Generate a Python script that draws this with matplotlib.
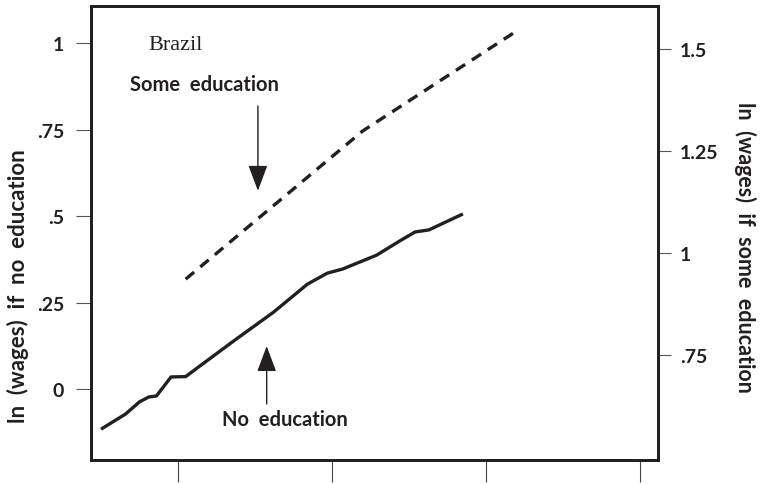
import matplotlib
matplotlib.use("Agg")
import matplotlib.pyplot as plt

# x positions (unlabelled axis, ticks at 1..4)
x_none = [0.50, 0.66, 0.75, 0.81, 0.86, 0.955, 1.05, 1.14, 1.38, 1.62, 1.84, 1.97, 2.07, 2.29, 2.44, 2.54, 2.63, 2.85]
ln_wage_none = [-0.116, -0.072, -0.037, -0.023, -0.020, 0.035, 0.036, 0.066, 0.145, 0.222, 0.303, 0.335, 0.347, 0.387, 0.428, 0.454, 0.460, 0.506]

x_some = [1.05, 2.20, 3.20]
ln_wage_some = [0.936, 1.299, 1.544]

left_ticks = [0, 0.25, 0.5, 0.75, 1]
left_labels = ["0", ".25", ".5", ".75", "1"]
right_ticks = [0.75, 1, 1.25, 1.5]
right_labels = [".75", "1", "1.25", "1.5"]
x_ticks = [1, 2, 3, 4]

ink = "#231f20"
sans = "Lato"

fig = plt.figure(figsize=(7.62, 4.85), dpi=100)
ax = fig.add_axes([0.1194, 0.0495, 0.7441, 0.9361])
ax2 = ax.twinx()

ax.plot(x_none, ln_wage_none, color=ink, lw=2.4, solid_capstyle="butt")
ax2.plot(x_some, ln_wage_some, color=ink, lw=2.4, dashes=(3.3, 2.4))

ax.set_xlim(0.435, 4.117)
ax.set_ylim(-0.205, 1.107)
ax2.set_ylim(0.493, 1.605)

for s in list(ax.spines.values()) + list(ax2.spines.values()):
    s.set_linewidth(2.0)
    s.set_color(ink)

ax.set_xticks(x_ticks)
ax.set_xticklabels([])
ax.tick_params(axis="x", direction="out", length=16, width=0.8, color="#444")
ax.set_yticks(left_ticks)
ax.set_yticklabels(left_labels, fontfamily=sans, fontweight="bold", fontsize=14, color=ink)
ax.tick_params(axis="y", direction="out", length=10.5, width=0.8, color="#555", pad=9)
ax2.set_yticks(right_ticks)
ax2.set_yticklabels(right_labels, fontfamily=sans, fontweight="bold", fontsize=14, color=ink)
ax2.tick_params(axis="y", direction="out", length=9, width=0.8, color="#555", pad=7)

fig.text(18 / 762, 1 - 286 / 485, "ln  (wages)  if  no  education", rotation=90,
         ha="center", va="center", fontfamily=sans, fontweight="bold", fontsize=16, color=ink)
fig.text(745 / 762, 1 - 247 / 485, "ln  (wages)  if  some  education", rotation=270,
         ha="center", va="center", fontfamily=sans, fontweight="bold", fontsize=15.5, color=ink)

ax.text(0.805, 0.997, "Brazil", ha="left", va="center", fontfamily="Liberation Serif",
        fontsize=16, color=ink)
ax.text(1.169, 0.882, "Some  education", ha="center", va="center", fontfamily=sans,
        fontweight="bold", fontsize=14.5, color=ink)
ax.text(1.695, -0.087, "No  education", ha="center", va="center", fontfamily=sans,
        fontweight="bold", fontsize=14.5, color=ink)

arrow = dict(arrowstyle="-|>,head_length=0.8,head_width=0.3", color=ink, lw=1.0,
             shrinkA=0, shrinkB=0, mutation_scale=20)
ax.annotate("", xy=(1.519, 0.573), xytext=(1.519, 0.818), arrowprops=arrow)
ax.annotate("", xy=(1.576, 0.124), xytext=(1.576, -0.043), arrowprops=arrow)

fig.savefig("out.png", dpi=100)
